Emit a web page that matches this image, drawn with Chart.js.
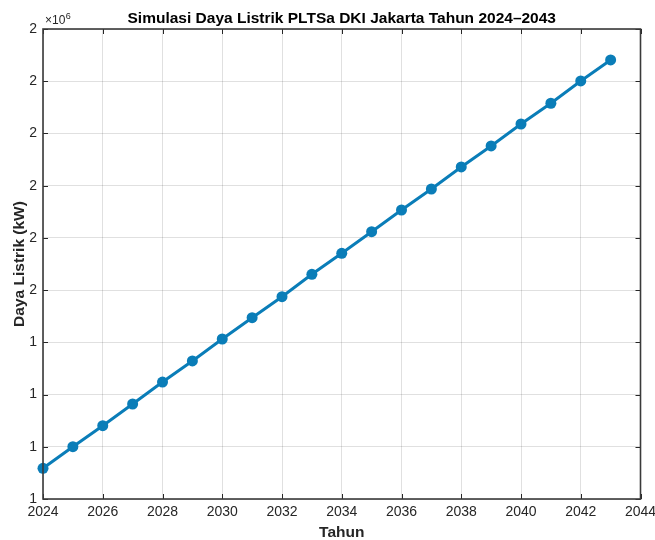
<!DOCTYPE html>
<html>
<head>
<meta charset="utf-8">
<script src="https://cdn.jsdelivr.net/npm/chart.js@4/dist/chart.umd.min.js"></script>
<style>
  html, body { margin: 0; padding: 0; background: #ffffff; }
  #wrap { width: 655px; height: 540px; position: relative; }
</style>
</head>
<body>
<div id="wrap"><canvas id="c" width="655" height="540"></canvas></div>
<script>
// Simulated PLTSa power output, DKI Jakarta
const years = [2024, 2025, 2026, 2027, 2028, 2029, 2030, 2031, 2032, 2033,
               2034, 2035, 2036, 2037, 2038, 2039, 2040, 2041, 2042, 2043];
const powerKW = [1158800, 1200200, 1240400, 1281900, 1324000, 1364300, 1406400, 1447200, 1487400, 1530300,
                 1570500, 1611900, 1653400, 1693600, 1735800, 1776000, 1818100, 1857800, 1900500, 1940700];

const xTickValues = [2024, 2026, 2028, 2030, 2032, 2034, 2036, 2038, 2040, 2042, 2044];
const xTickLabels = ['2024', '2026', '2028', '2030', '2032', '2034', '2036', '2038', '2040', '2042', '2044'];
const yTickValues = [1100000, 1200000, 1300000, 1400000, 1500000, 1600000, 1700000, 1800000, 1900000, 2000000];
const yTickLabels = ['1', '1', '1', '1', '2', '2', '2', '2', '2', '2'];

const titleText = 'Simulasi Daya Listrik PLTSa DKI Jakarta Tahun 2024\u20132043';
const xTitle = 'Tahun';
const yTitle = 'Daya Listrik (kW)';

const FONT = '"Liberation Sans", Arial, Helvetica, sans-serif';
const INK = '#262626';
const LINE = '#0a7db8';

// Box, inward tick marks, titles and exponent label
const decor = {
  id: 'decor',
  beforeDatasetsDraw(chart) {
    const { ctx, chartArea: a, scales } = chart;
    ctx.save();
    ctx.strokeStyle = INK;
    ctx.lineWidth = 1;
    const tl = 5;
    xTickValues.forEach(v => {
      const x = Math.round(scales.x.getPixelForValue(v)) + 0.5;
      ctx.beginPath();
      ctx.moveTo(x, a.bottom); ctx.lineTo(x, a.bottom - tl);
      ctx.moveTo(x, a.top); ctx.lineTo(x, a.top + tl);
      ctx.stroke();
    });
    yTickValues.forEach(v => {
      const y = Math.round(scales.y.getPixelForValue(v)) + 0.5;
      ctx.beginPath();
      ctx.moveTo(a.left, y); ctx.lineTo(a.left + tl, y);
      ctx.moveTo(a.right, y); ctx.lineTo(a.right - tl, y);
      ctx.stroke();
    });
    ctx.restore();
  },
  afterDraw(chart) {
    const { ctx, chartArea: a } = chart;
    ctx.save();
    ctx.strokeStyle = '#3a3a3a';
    ctx.lineWidth = 1.6;
    ctx.strokeRect(a.left, a.top, a.right - a.left, a.bottom - a.top);

    ctx.fillStyle = '#000000';
    ctx.textAlign = 'center';
    ctx.textBaseline = 'alphabetic';
    ctx.font = 'bold 15.5px ' + FONT;
    ctx.fillText(titleText, (a.left + a.right) / 2, 23);

    ctx.fillStyle = INK;
    ctx.font = 'bold 15.5px ' + FONT;
    ctx.fillText(xTitle, (a.left + a.right) / 2, 537);

    ctx.save();
    ctx.translate(24, (a.top + a.bottom) / 2);
    ctx.rotate(-Math.PI / 2);
    ctx.fillText(yTitle, 0, 0);
    ctx.restore();

    ctx.textAlign = 'left';
    ctx.font = '12px ' + FONT;
    ctx.fillText('\u00d710', 45, 24);
    const w = ctx.measureText('\u00d710').width;
    ctx.font = '9px ' + FONT;
    ctx.fillText('6', 45 + w + 0.5, 19);
    ctx.restore();
  }
};

new Chart(document.getElementById('c'), {
  type: 'line',
  data: {
    labels: years,
    datasets: [{
      data: years.map((y, i) => ({ x: y, y: powerKW[i] })),
      borderColor: LINE,
      backgroundColor: LINE,
      borderWidth: 3,
      pointRadius: 5.5,
      pointHoverRadius: 5.5,
      pointBorderWidth: 0,
      tension: 0,
      clip: false
    }]
  },
  options: {
    responsive: false,
    animation: false,
    layout: { padding: { top: 29, right: 14.5, left: 0, bottom: 0 } },
    plugins: { legend: { display: false }, title: { display: false }, tooltip: { enabled: false } },
    scales: {
      x: {
        type: 'linear',
        min: 2024, max: 2044,
        afterFit(s) { s.height = 41; s.paddingLeft = 0; s.paddingRight = 0; },
        afterBuildTicks(s) { s.ticks = xTickValues.map(v => ({ value: v })); },
        ticks: {
          callback: (v) => xTickLabels[xTickValues.indexOf(v)],
          color: INK,
          font: { family: FONT, size: 14 },
          padding: 5,
          maxRotation: 0,
          autoSkip: false
        },
        grid: { color: 'rgba(0,0,0,0.12)', lineWidth: 1, drawTicks: false },
        border: { display: false }
      },
      y: {
        type: 'linear',
        min: 1100000, max: 2000000,
        afterFit(s) { s.width = 43; s.paddingTop = 0; s.paddingBottom = 0; },
        afterBuildTicks(s) { s.ticks = yTickValues.map(v => ({ value: v })); },
        ticks: {
          callback: (v) => yTickLabels[yTickValues.indexOf(v)],
          color: INK,
          font: { family: FONT, size: 14 },
          padding: 6,
          autoSkip: false
        },
        grid: { color: 'rgba(0,0,0,0.12)', lineWidth: 1, drawTicks: false },
        border: { display: false }
      }
    }
  },
  plugins: [decor]
});
</script>
</body>
</html>
